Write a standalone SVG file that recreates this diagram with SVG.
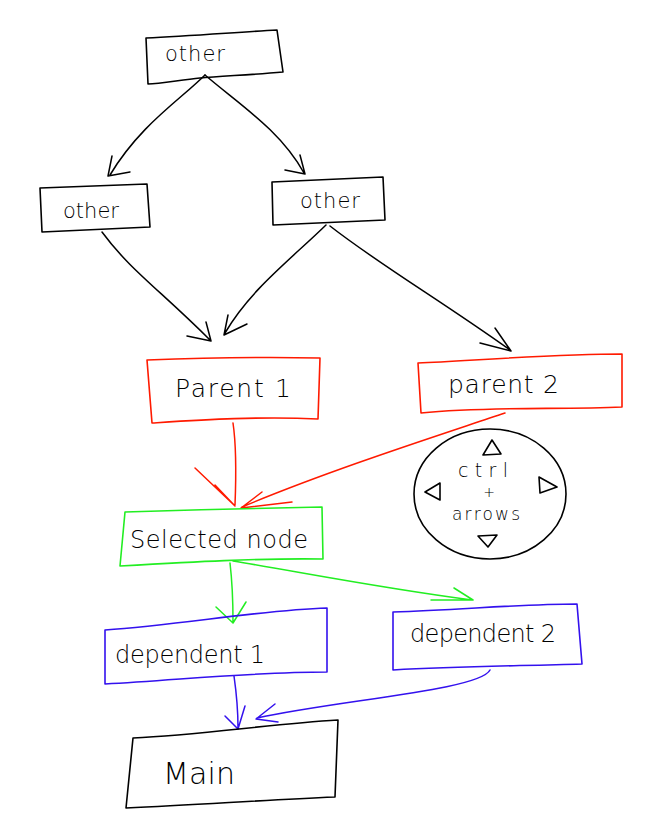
<svg xmlns="http://www.w3.org/2000/svg" width="658" height="837" viewBox="0 0 658 837">
<style>
.box{fill:none;stroke-width:1.6;stroke-linejoin:round;stroke-linecap:round}
.k{stroke:#000}.r{stroke:#ff1a00}.g{stroke:#22ee22}.b{stroke:#3311ee}
.t{font-family:"DejaVu Sans","Liberation Sans",sans-serif;fill:#000;font-weight:300}
.ln{fill:none;stroke-width:1.5;stroke-linecap:round;stroke-linejoin:round}
</style>
<rect width="658" height="837" fill="#fff"/>
<g id="connectors">
<path class="ln k" d="M205,75 C180,100 140,125 110,175 M108,176 L130,172 M108,176 L112,156"/>
<path class="ln k" d="M205,75 C240,105 280,130 304,173 M305,174 L300,155 M305,174 L285,170"/>
<path class="ln k" d="M102,232 C130,270 160,290 210,340 M211,341 L206,322 M211,341 L187,336"/>
<path class="ln k" d="M326,225 C290,260 250,290 225,333 M224,335 L228,315 M224,335 L247,324"/>
<path class="ln k" d="M330,226 C380,265 440,300 510,350 M511,351 L495,328 M511,351 L480,343"/>
<path class="ln r" d="M233,423 C237,450 236,480 235,505 M235,506 L215,485 M235,506 L195,468"/>
<path class="ln r" d="M505,413 C440,435 330,470 242,507 M241,508 L262,492 M241,508 L292,502"/>
<path class="ln g" d="M230,563 C232,580 233,600 233,622 M233,623 L216,607 M233,623 L246,602"/>
<path class="ln g" d="M233,561 C300,572 380,588 472,600 M473,600 L454,588 M473,600 L431,600"/>
<path class="ln b" d="M234,676 C236,690 238,710 238,728 M238,729 L225,716 M238,729 L245,706"/>
<path class="ln b" d="M490,670 C480,690 340,700 257,718 M256,719 L275,704 M256,719 L278,722"/>
</g>
<g id="n_other_top">
<path class="box k" d="M146,38 C190,36 240,32 277,30 L283,72 C250,75 220,76 200,78 C180,80 160,84 148,84 Z"/>
<text class="t" x="165" y="61" font-size="21" textLength="60" lengthAdjust="spacing">other</text>
</g>
<g id="n_other_left">
<path class="box k" d="M40,188 L147,184 L150,227 L42,232 Z"/>
<text class="t" x="63" y="218" font-size="21" textLength="56" lengthAdjust="spacing">other</text>
</g>
<g id="n_other_right">
<path class="box k" d="M272,182 L383,177 L385,220 L273,225 Z"/>
<text class="t" x="300" y="208" font-size="21" textLength="60" lengthAdjust="spacing">other</text>
</g>
<g id="n_parent1">
<path class="box r" d="M147,360 C200,358 270,357 320,358 L318,419 C260,416 200,420 152,423 Z"/>
<text class="t" x="175" y="397" font-size="25" textLength="116" lengthAdjust="spacing">Parent 1</text>
</g>
<g id="n_parent2">
<path class="box r" d="M418,363 C480,360 560,354 622,354 L622,407 C560,410 490,406 421,413 Z"/>
<text class="t" x="448" y="393" font-size="25" textLength="111" lengthAdjust="spacing">parent 2</text>
</g>
<g id="n_selected">
<path class="box g" d="M125,512 C190,510 260,508 322,507 L323,559 C260,558 190,562 120,566 Z"/>
<text class="t" x="130" y="548" font-size="24" textLength="178" lengthAdjust="spacing">Selected node</text>
</g>
<g id="n_dep1">
<path class="box b" d="M105,630 C180,625 260,610 327,608 L327,672 C250,672 180,680 105,684 Z"/>
<text class="t" x="115" y="663" font-size="24" textLength="150" lengthAdjust="spacing">dependent 1</text>
</g>
<g id="n_dep2">
<path class="box b" d="M393,612 C460,610 520,604 577,604 L582,664 C520,666 460,666 393,670 Z"/>
<text class="t" x="410" y="642" font-size="24" textLength="146" lengthAdjust="spacing">dependent 2</text>
</g>
<g id="n_main">
<path class="box k" d="M133,738 C200,735 270,724 338,720 L335,797 C260,800 200,805 126,808 Z"/>
<text class="t" x="163" y="784" font-size="30" textLength="72" lengthAdjust="spacing">Main</text>
</g>
<g id="n_help">
<ellipse class="box k" cx="490" cy="494" rx="76" ry="65"/>
<path class="box k" d="M492,440 L483,455 L501,454 Z M440,483 L425,492 L440,500 Z M539,477 L557,487 L540,493 Z M478,536 L497,535 L488,547 Z"/>
<text class="t" x="458" y="477" font-size="19" textLength="50" lengthAdjust="spacing">ctrl</text>
<text class="t" x="489" y="497" font-size="14" text-anchor="middle">+</text>
<text class="t" x="452" y="520" font-size="17" textLength="68" lengthAdjust="spacing">arrows</text>
</g>
</svg>
